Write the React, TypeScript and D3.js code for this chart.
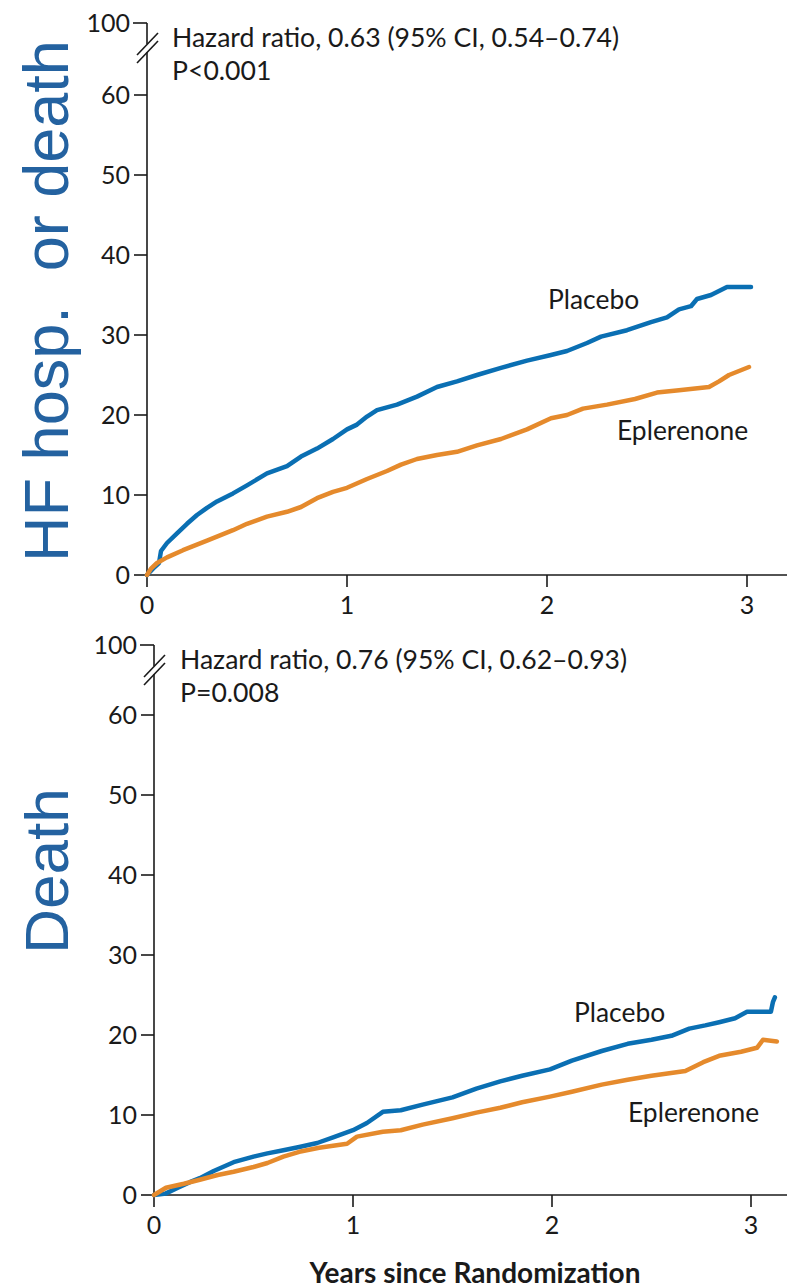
import React from 'react';
import * as d3 from 'd3';

// Kaplan-Meier style cumulative incidence (%), [years, percent]
const hfPlacebo: [number, number][] = [
  [0, 0], [0.03, 0.8], [0.06, 1.5], [0.07, 3.0], [0.1, 4.0], [0.15, 5.2], [0.2, 6.4],
  [0.25, 7.5], [0.3, 8.4], [0.35, 9.2], [0.43, 10.2], [0.5, 11.2], [0.6, 12.7], [0.7, 13.6],
  [0.77, 14.8], [0.85, 15.8], [0.93, 17.0], [1.0, 18.2], [1.05, 18.8], [1.1, 19.8],
  [1.15, 20.6], [1.25, 21.3], [1.35, 22.3], [1.45, 23.5], [1.55, 24.2], [1.65, 25.0],
  [1.77, 25.9], [1.9, 26.8], [2.02, 27.5], [2.1, 28.0], [2.2, 29.0], [2.27, 29.8],
  [2.4, 30.6], [2.52, 31.6], [2.6, 32.2], [2.66, 33.2], [2.72, 33.6], [2.75, 34.5],
  [2.82, 35.0], [2.9, 36.0], [3.02, 36.0],
];
const hfEplerenone: [number, number][] = [
  [0, 0], [0.02, 0.8], [0.05, 1.5], [0.1, 2.2], [0.18, 3.1], [0.3, 4.3], [0.43, 5.6],
  [0.5, 6.4], [0.6, 7.3], [0.7, 7.9], [0.77, 8.5], [0.85, 9.6], [0.93, 10.4], [1.0, 10.9],
  [1.1, 12.0], [1.2, 13.0], [1.27, 13.8], [1.35, 14.5], [1.45, 15.0], [1.55, 15.4],
  [1.65, 16.2], [1.77, 17.0], [1.9, 18.2], [2.02, 19.6], [2.1, 20.0], [2.18, 20.8],
  [2.3, 21.3], [2.44, 22.0], [2.55, 22.8], [2.66, 23.1], [2.81, 23.5], [2.86, 24.2],
  [2.91, 25.0], [2.96, 25.5], [3.01, 26.0],
];
const deathPlacebo: [number, number][] = [
  [0, 0], [0.06, 0.2], [0.12, 0.9], [0.18, 1.6], [0.23, 2.1], [0.3, 3.0], [0.4, 4.1],
  [0.5, 4.8], [0.57, 5.2], [0.65, 5.6], [0.73, 6.0], [0.82, 6.5], [0.9, 7.2], [1.0, 8.1],
  [1.07, 9.0], [1.15, 10.4], [1.24, 10.6], [1.35, 11.3], [1.5, 12.2], [1.62, 13.3],
  [1.74, 14.2], [1.85, 14.9], [1.99, 15.7], [2.1, 16.8], [2.25, 18.0], [2.38, 18.9],
  [2.5, 19.4], [2.6, 19.9], [2.69, 20.8], [2.77, 21.2], [2.84, 21.6], [2.92, 22.1],
  [2.98, 22.9], [3.1, 22.9], [3.11, 24.1], [3.12, 24.7],
];
const deathEplerenone: [number, number][] = [
  [0, 0], [0.06, 0.9], [0.15, 1.4], [0.23, 1.9], [0.32, 2.5], [0.4, 2.9], [0.5, 3.5],
  [0.57, 4.0], [0.65, 4.8], [0.73, 5.4], [0.83, 5.9], [0.97, 6.4], [1.02, 7.3],
  [1.15, 7.9], [1.24, 8.1], [1.35, 8.8], [1.5, 9.6], [1.62, 10.3], [1.74, 10.9],
  [1.85, 11.6], [1.99, 12.3], [2.1, 12.9], [2.25, 13.8], [2.38, 14.4], [2.5, 14.9],
  [2.67, 15.5], [2.76, 16.6], [2.84, 17.4], [2.95, 17.9], [3.03, 18.4], [3.06, 19.4],
  [3.13, 19.2],
];

const yTicks = [0, 10, 20, 30, 40, 50, 60];
const xTicks = [0, 1, 2, 3];
const hfStats = ['Hazard ratio, 0.63 (95% CI, 0.54–0.74)', 'P<0.001'];
const deathStats = ['Hazard ratio, 0.76 (95% CI, 0.62–0.93)', 'P=0.008'];

const BLUE = '#0a6fb3';
const ORANGE = '#e58a2c';
const INK = '#1a1a1a';
const FONT = 'Lato, "Open Sans", sans-serif';

type PanelProps = {
  placebo: [number, number][];
  eplerenone: [number, number][];
  stats: string[];
  left: number;
  right: number;
  zeroY: number;
  top100: number;
  statsX: number;
  placeboPos: [number, number];
  eplerenonePos: [number, number];
};

const Panel = ({ placebo, eplerenone, stats, left, right, zeroY, top100, statsX, placeboPos, eplerenonePos }: PanelProps) => {
  const x = d3.scaleLinear().domain([0, 3]).range([left, right]);
  const y = d3.scaleLinear().domain([0, 60]).range([zeroY, zeroY - 480]);
  const line = d3.line<[number, number]>()
    .x(d => x(d[0]))
    .y(d => y(d[1]));

  return (
    <g>
      {/* y axis with break */}
      <line x1={left} x2={left} y1={zeroY} y2={top100 + 29} stroke={INK} strokeWidth={1.6} />
      <line x1={left} x2={left} y1={top100} y2={top100 + 21} stroke={INK} strokeWidth={1.6} />
      <line x1={left - 14} x2={left} y1={top100} y2={top100} stroke={INK} strokeWidth={1.6} />
      <line x1={left - 10} y1={top100 + 32} x2={left + 11} y2={top100 + 10} stroke={INK} strokeWidth={1.6} />
      <line x1={left - 10} y1={top100 + 40} x2={left + 11} y2={top100 + 18} stroke={INK} strokeWidth={1.6} />
      <text x={left - 17} y={top100} dy="0.35em" textAnchor="end" fontSize={25} fill={INK}>100</text>
      {yTicks.map(t => (
        <g key={t}>
          <line x1={left - 13} x2={left} y1={y(t)} y2={y(t)} stroke={INK} strokeWidth={1.6} />
          <text x={left - 17} y={y(t)} dy="0.35em" textAnchor="end" fontSize={25} fill={INK}>{t}</text>
        </g>
      ))}

      {/* x axis */}
      <line x1={left} x2={787} y1={zeroY} y2={zeroY} stroke={INK} strokeWidth={1.6} />
      {xTicks.map(t => (
        <g key={t}>
          <line x1={x(t)} x2={x(t)} y1={zeroY} y2={zeroY + 12} stroke={INK} strokeWidth={1.6} />
          <text x={x(t)} y={zeroY + 39} textAnchor="middle" fontSize={25} fill={INK}>{t}</text>
        </g>
      ))}

      <path d={line(placebo) ?? ''} fill="none" stroke={BLUE} strokeWidth={4.5} strokeLinejoin="round" strokeLinecap="round" />
      <path d={line(eplerenone) ?? ''} fill="none" stroke={ORANGE} strokeWidth={4.5} strokeLinejoin="round" strokeLinecap="round" />

      <text x={statsX} y={top100 + 24} fontSize={26.6} fill={INK}>{stats[0]}</text>
      <text x={statsX} y={top100 + 57} fontSize={26.6} fill={INK}>{stats[1]}</text>
      <text x={placeboPos[0]} y={placeboPos[1]} fontSize={26.4} fill={INK}>Placebo</text>
      <text x={eplerenonePos[0]} y={eplerenonePos[1]} fontSize={26.4} fill={INK}>Eplerenone</text>
    </g>
  );
};

export default function App() {
  return (
    <svg width={787} height={1288} style={{ position: 'absolute', left: 0, top: 0, background: '#fff' }} fontFamily={FONT}>
      <Panel
        placebo={hfPlacebo}
        eplerenone={hfEplerenone}
        stats={hfStats}
        left={147}
        right={747}
        zeroY={575}
        top100={23}
        statsX={172}
        placeboPos={[548, 309]}
        eplerenonePos={[617, 440]}
      />
      <Panel
        placebo={deathPlacebo}
        eplerenone={deathEplerenone}
        stats={deathStats}
        left={154}
        right={751}
        zeroY={1195}
        top100={645}
        statsX={180}
        placeboPos={[574, 1022]}
        eplerenonePos={[628, 1122]}
      />

      <text transform="translate(68,301) rotate(-90)" textAnchor="middle" fontSize={63}
        fontFamily='"Liberation Sans", Arial, sans-serif' fill="#2462a0"
        style={{ whiteSpace: 'pre' }}>{'HF hosp.  or death'}</text>
      <text transform="translate(68,871) rotate(-90)" textAnchor="middle" fontSize={62}
        fontFamily='"Liberation Sans", Arial, sans-serif' fill="#2462a0">Death</text>

      <text x={475} y={1283} textAnchor="middle" fontSize={28} fontWeight="bold" fill={INK}>Years since Randomization</text>
    </svg>
  );
}
